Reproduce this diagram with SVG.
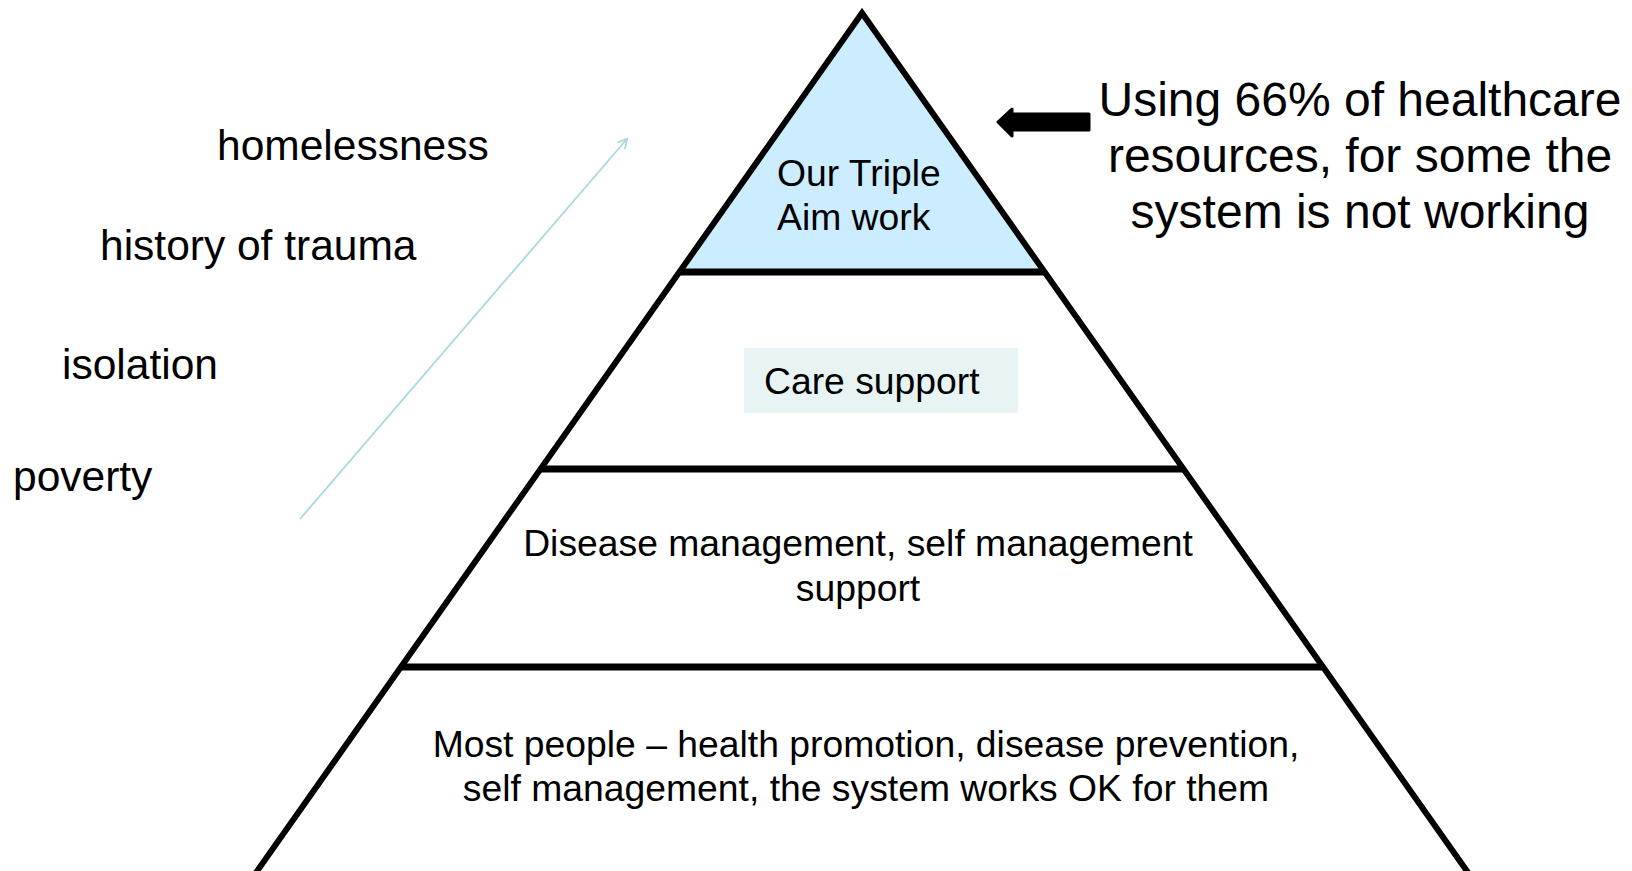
<svg xmlns="http://www.w3.org/2000/svg" width="1632" height="871" viewBox="0 0 1632 871">
<style>
  text { font-family: "Liberation Sans", Arial, sans-serif; fill: #000; }
  .side { font-size: 42.5px; }
  .lvl { font-size: 37.3px; }
  .note { font-size: 48px; text-anchor: middle; }
  .mid { text-anchor: middle; }
  .edge { fill: none; stroke: #000; stroke-width: 6; stroke-linejoin: miter; }
  .band { stroke: #000; stroke-width: 7; }
</style>
<defs>
  <marker id="openArrow" markerWidth="12" markerHeight="12" refX="10" refY="6" orient="auto" markerUnits="userSpaceOnUse">
    <path d="M1,1 L10,6 L1,11" fill="none" stroke="#A9D8DF" stroke-width="1.8"/>
  </marker>
</defs>
<rect width="1632" height="871" fill="#fff"/>

<g id="left-labels">
  <text class="side" x="217" y="160">homelessness</text>
  <text class="side" x="100" y="260">history of trauma</text>
  <text class="side" x="62" y="379">isolation</text>
  <text class="side" x="13" y="491">poverty</text>
</g>

<g id="connectors">
  <line x1="300" y1="519" x2="627" y2="139" stroke="#A9D8DF" stroke-width="1.8" marker-end="url(#openArrow)"/>
  <path d="M998,122 L1012,109 L1012,114 L1089,114 L1089,130 L1012,130 L1012,136 Z" fill="#000" stroke="#000" stroke-width="3" stroke-linejoin="round"/>
</g>

<g id="pyramid">
  <polygon id="top-level" points="862,13 679,272 1045,272" fill="#CCECFF"/>
  <polygon class="edge" points="862,13 255,874 1469,874"/>
  <line class="band" x1="679" y1="272" x2="1045" y2="272"/>
  <line class="band" x1="540" y1="469" x2="1184" y2="469"/>
  <line class="band" x1="401" y1="667" x2="1323" y2="667"/>
</g>

<g id="level-1">
  <text class="lvl" x="777" y="186">Our Triple</text>
  <text class="lvl" x="777" y="230">Aim work</text>
</g>

<g id="level-2">
  <rect x="744" y="348" width="274" height="65" fill="#E8F4F4"/>
  <text class="lvl" x="764" y="394">Care support</text>
</g>

<g id="level-3">
  <text class="lvl mid" x="858" y="556">Disease management, self management</text>
  <text class="lvl mid" x="858" y="601">support</text>
</g>

<g id="level-4">
  <text class="lvl mid" x="866" y="757">Most people – health promotion, disease prevention,</text>
  <text class="lvl mid" x="866" y="801">self management, the system works OK for them</text>
</g>

<g id="note">
  <text class="note" x="1360" y="116">Using 66% of healthcare</text>
  <text class="note" x="1360" y="172">resources, for some the</text>
  <text class="note" x="1360" y="228">system is not working</text>
</g>
</svg>
